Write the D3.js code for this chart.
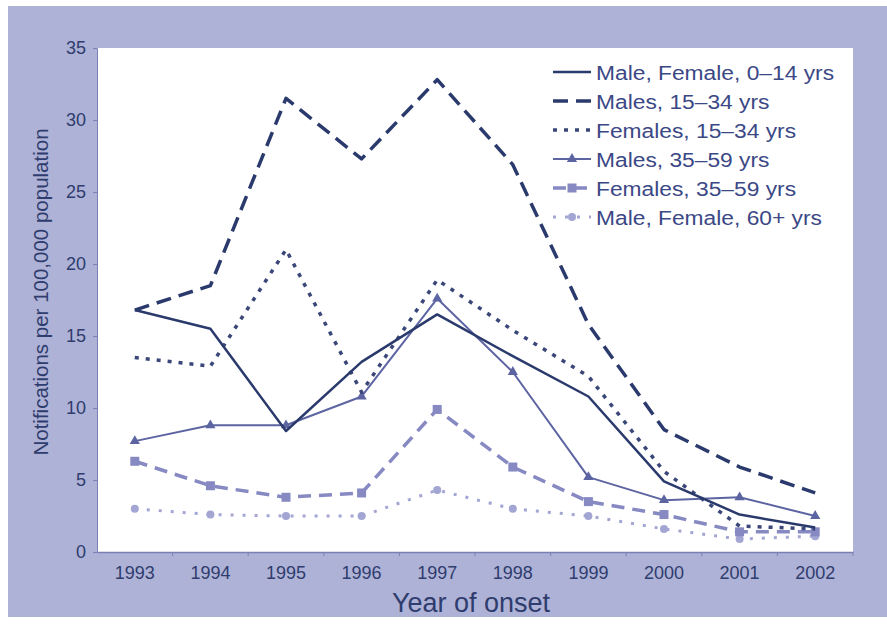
<!DOCTYPE html>
<html>
<head>
<meta charset="utf-8">
<script src="https://cdn.jsdelivr.net/npm/d3@7"></script>
<style>
  body { margin: 0; background: #fff; }
  text { font-family: "Liberation Sans", Arial, sans-serif; }
</style>
</head>
<body>
<svg width="887" height="627"></svg>
<script>
var years = ['1993', '1994', '1995', '1996', '1997', '1998', '1999', '2000', '2001', '2002'];
var yTicks = [0, 5, 10, 15, 20, 25, 30, 35];

var mf014 = [16.8, 15.5, 8.4, 13.2, 16.5, 13.6, 10.8, 4.9, 2.6, 1.7];
var m1534 = [16.8, 18.5, 31.5, 27.3, 32.8, 26.9, 15.8, 8.5, 5.9, 4.1];
var f1534 = [13.5, 12.9, 21.0, 11.1, 18.9, 15.4, 12.2, 5.6, 1.8, 1.6];
var m3559 = [7.7, 8.8, 8.8, 10.8, 17.6, 12.5, 5.2, 3.6, 3.8, 2.5];
var f3559 = [6.3, 4.6, 3.8, 4.1, 9.9, 5.9, 3.5, 2.6, 1.4, 1.4];
var mf60 = [3.0, 2.6, 2.5, 2.5, 4.3, 3.0, 2.5, 1.6, 0.9, 1.1];

var series = [
  { name: 'Male, Female, 0\u201314 yrs', values: mf014, color: '#2b3a6c', width: 2.5, dash: null, marker: null },
  { name: 'Males, 15\u201334 yrs', values: m1534, color: '#2b3a6c', width: 3.5, dash: '15,8', marker: null },
  { name: 'Females, 15\u201334 yrs', values: f1534, color: '#3a4778', width: 3.5, dash: '4,7', marker: null },
  { name: 'Males, 35\u201359 yrs', values: m3559, color: '#5d64a2', width: 2, dash: null, marker: 'triangle' },
  { name: 'Females, 35\u201359 yrs', values: f3559, color: '#8689c2', width: 3.5, dash: '13,8', marker: 'square' },
  { name: 'Male, Female, 60+ yrs', values: mf60, color: '#a3a6d3', width: 3, dash: '3,9', marker: 'circle' }
];

var svg = d3.select('svg');
var margin = { left: 97, right: 853, top: 48, bottom: 552 };

svg.append('rect').attr('x', 8).attr('y', 6).attr('width', 879).attr('height', 611).attr('fill', '#aeb2d6');
svg.append('rect').attr('x', margin.left).attr('y', margin.top)
  .attr('width', margin.right - margin.left).attr('height', margin.bottom - margin.top).attr('fill', '#fff');

var x = d3.scaleBand().domain(years).range([margin.left, margin.right]);
var y = d3.scaleLinear().domain([0, 35]).range([margin.bottom, margin.top]);

var axisColor = '#7a80b4';
var textColor = '#2f3c6e';

// y axis
var gy = svg.append('g').attr('transform', 'translate(' + margin.left + ',0)')
  .call(d3.axisLeft(y).tickValues(yTicks).tickSize(4).tickPadding(7));
gy.select('.domain').attr('stroke', axisColor);
gy.selectAll('.tick line').attr('stroke', axisColor);
gy.selectAll('.tick text').attr('fill', textColor).style('font-size', '18px');

// x axis, ticks at band boundaries
var gx = svg.append('g').attr('transform', 'translate(0,' + margin.bottom + ')')
  .call(d3.axisBottom(x).tickSize(0).tickPadding(14));
gx.select('.domain').attr('stroke', axisColor).attr('stroke-width', 1.5);
gx.selectAll('.tick text').attr('fill', textColor).style('font-size', '18px');
gx.selectAll('.bound').data(years.slice(1).concat(['end'])).enter().append('line')
  .attr('x1', function (d, i) { return margin.left + (i + 1) * x.bandwidth(); })
  .attr('x2', function (d, i) { return margin.left + (i + 1) * x.bandwidth(); })
  .attr('y1', 0).attr('y2', 4).attr('stroke', axisColor);

svg.append('text').attr('x', 471).attr('y', 612).attr('text-anchor', 'middle')
  .attr('fill', textColor).style('font-size', '27px').text('Year of onset');
svg.append('text').attr('transform', 'translate(48,292) rotate(-90)').attr('text-anchor', 'middle')
  .attr('fill', textColor).style('font-size', '20.5px').text('Notifications per 100,000 population');

var cx = function (i) { return x(years[i]) + x.bandwidth() / 2; };
var line = d3.line().x(function (d, i) { return cx(i); }).y(function (d) { return y(d); });

function drawMarker(g, type, px, py, color) {
  if (type === 'triangle') {
    g.append('path').attr('d', d3.symbol().type(d3.symbolTriangle).size(45)())
      .attr('transform', 'translate(' + px + ',' + py + ')').attr('fill', color);
  } else if (type === 'square') {
    g.append('rect').attr('x', px - 4.5).attr('y', py - 4.5).attr('width', 9).attr('height', 9).attr('fill', color);
  } else if (type === 'circle') {
    g.append('circle').attr('cx', px).attr('cy', py).attr('r', 4).attr('fill', color);
  }
}

// draw light series first so dark lines sit on top
series.slice().reverse().forEach(function (s) {
  var g = svg.append('g');
  g.append('path').datum(s.values).attr('d', line).attr('fill', 'none')
    .attr('stroke', s.color).attr('stroke-width', s.width)
    .attr('stroke-dasharray', s.dash).attr('stroke-linejoin', 'round');
  if (s.marker) {
    s.values.forEach(function (v, i) { drawMarker(g, s.marker, cx(i), y(v), s.color); });
  }
});

// legend
var lg = svg.append('g').attr('transform', 'translate(553,72)');
series.forEach(function (s, i) {
  var row = lg.append('g').attr('transform', 'translate(0,' + i * 29 + ')');
  row.append('line').attr('x1', 0).attr('x2', 38).attr('y1', 0).attr('y2', 0)
    .attr('stroke', s.color).attr('stroke-width', s.width).attr('stroke-dasharray', s.dash);
  if (s.marker) drawMarker(row, s.marker, 19, 0, s.color);
  row.append('text').attr('transform', 'translate(43,8) scale(1.085,1)').attr('fill', '#3b4886')
    .style('font-size', '21px').text(s.name);
});
</script>
</body>
</html>
